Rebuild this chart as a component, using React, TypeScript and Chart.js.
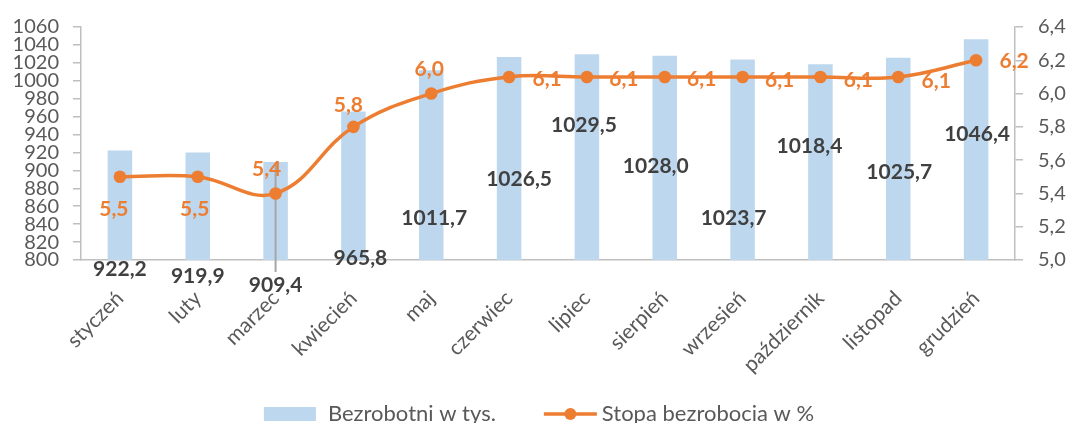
import React, { useEffect, useRef } from "react";
import { Chart, registerables } from "chart.js";

Chart.register(...registerables);

// ---- data ----
const months = [
  "styczeń", "luty", "marzec", "kwiecień", "maj", "czerwiec",
  "lipiec", "sierpień", "wrzesień", "październik", "listopad", "grudzień",
];
const unemployed = [922.2, 919.9, 909.4, 965.8, 1011.7, 1026.5, 1029.5, 1028.0, 1023.7, 1018.4, 1025.7, 1046.4];
const rate = [5.5, 5.5, 5.4, 5.8, 6.0, 6.1, 6.1, 6.1, 6.1, 6.1, 6.1, 6.2];
const seriesNames = ["Bezrobotni w tys.", "Stopa bezrobocia w %"];

// axis ranges
const leftMin = 800;
const leftMax = 1060;
const leftStep = 20;
const rightMin = 5.0;
const rightMax = 6.4;
const rightStep = 0.2;

// label offsets (pixels, relative to bar top / point centre)
const barLabelDx = [0, 0, 0, 7, 3, 10, -3, -9, -9, -11, 1, 1];
const barLabelDy = [119, 124, 123, 147, 148, 122, 71, 111, 159, 82, 114, 95];
const rateLabelDx = [-6, -3, -9, -5, -2, 38, 37, 37, 37, 38, 38, 38];
const rateLabelDy = [32, 32, -24, -22, -24, 2, 2, 2, 3, 3, 4, 1];

// ---- styles ----
const BAR_COLOR = "#BDD7EE";
const LINE_COLOR = "#ED7D31";
const AXIS_COLOR = "#BFBFBF";
const TICK_TEXT = "#595959";
const LABEL_DARK = "#404040";
const FONT = "Lato, 'Liberation Sans', sans-serif";

const fmt = (v: number) => v.toFixed(1).replace(".", ",");

const labelsPlugin = {
  id: "customLabels",
  afterDatasetDraw(chart: any, args: any) {
    if (args.index !== 0) return;
    // thin grey drop line at "marzec"
    const lineMeta = chart.getDatasetMeta(1);
    const p = lineMeta.data[2];
    if (!p) return;
    const ctx = chart.ctx;
    ctx.save();
    ctx.strokeStyle = "#A6A6A6";
    ctx.lineWidth = 2;
    ctx.beginPath();
    ctx.moveTo(p.x, p.y - 30);
    ctx.lineTo(p.x, chart.chartArea.bottom + 12);
    ctx.stroke();
    ctx.restore();
  },
  afterDatasetsDraw(chart: any) {
    const ctx = chart.ctx;
    ctx.save();
    ctx.textAlign = "center";
    ctx.textBaseline = "middle";
    const barMeta = chart.getDatasetMeta(0);
    ctx.font = `bold 21px ${FONT}`;
    ctx.fillStyle = LABEL_DARK;
    barMeta.data.forEach((el: any, i: number) => {
      ctx.fillText(fmt(unemployed[i]), el.x + barLabelDx[i], el.y + barLabelDy[i]);
    });
    const lineMeta = chart.getDatasetMeta(1);
    ctx.fillStyle = LINE_COLOR;
    lineMeta.data.forEach((el: any, i: number) => {
      ctx.fillText(fmt(rate[i]), el.x + rateLabelDx[i], el.y + rateLabelDy[i]);
    });
    ctx.restore();
  },
  afterDraw(chart: any) {
    const ctx = chart.ctx;
    ctx.save();
    ctx.font = `22px ${FONT}`;
    const w1 = ctx.measureText(seriesNames[0]).width;
    const w2 = ctx.measureText(seriesNames[1]).width;
    const boxW = 52, gap1 = 12, between = 48, lineW = 53, gap2 = 5;
    const total = boxW + gap1 + w1 + between + lineW + gap2 + w2;
    let x = (chart.width - total) / 2 + 4;
    const yMid = 414;
    ctx.fillStyle = BAR_COLOR;
    ctx.fillRect(x, yMid - 7, boxW, 14);
    x += boxW + gap1;
    ctx.fillStyle = TICK_TEXT;
    ctx.textBaseline = "alphabetic";
    ctx.textAlign = "left";
    ctx.fillText(seriesNames[0], x, yMid + 7);
    x += w1 + between;
    ctx.strokeStyle = LINE_COLOR;
    ctx.lineWidth = 3.5;
    ctx.beginPath();
    ctx.moveTo(x, yMid);
    ctx.lineTo(x + lineW, yMid);
    ctx.stroke();
    ctx.fillStyle = LINE_COLOR;
    ctx.beginPath();
    ctx.arc(x + lineW / 2, yMid, 6, 0, Math.PI * 2);
    ctx.fill();
    x += lineW + gap2;
    ctx.fillStyle = TICK_TEXT;
    ctx.fillText(seriesNames[1], x, yMid + 7);
    ctx.restore();
  },
};

export default function App() {
  const canvasRef = useRef<HTMLCanvasElement | null>(null);

  useEffect(() => {
    if (!canvasRef.current) return;
    const chart = new Chart(canvasRef.current, {
      type: "bar",
      data: {
        labels: months,
        datasets: [
          {
            type: "bar",
            label: seriesNames[0],
            data: unemployed,
            backgroundColor: BAR_COLOR,
            yAxisID: "y",
            barPercentage: 0.315,
            categoryPercentage: 1,
            order: 2,
          },
          {
            type: "line",
            label: seriesNames[1],
            data: rate,
            borderColor: LINE_COLOR,
            backgroundColor: LINE_COLOR,
            borderWidth: 3.5,
            pointRadius: 6.3,
            pointBackgroundColor: LINE_COLOR,
            pointBorderWidth: 0,
            tension: 0.4,
            yAxisID: "y1",
            order: 1,
          },
        ],
      },
      options: {
        animation: false,
        responsive: true,
        maintainAspectRatio: false,
        layout: { padding: { top: 23, left: 0, right: 0, bottom: 0 } },
        plugins: {
          legend: { display: false },
          tooltip: { enabled: false },
        },
        scales: {
          x: {
            grid: { display: false, drawTicks: false },
            border: { display: true, color: AXIS_COLOR, width: 1.5 },
            ticks: {
              minRotation: 45,
              maxRotation: 45,
              autoSkip: false,
              padding: 26,
              color: TICK_TEXT,
              font: { family: FONT, size: 21 },
            },
            afterFit: (s: any) => { s.height = 163; },
          },
          y: {
            position: "left",
            min: leftMin,
            max: leftMax,
            grid: { drawOnChartArea: false, color: AXIS_COLOR, tickLength: 8, lineWidth: 1.5 },
            border: { display: true, color: AXIS_COLOR, width: 1.5 },
            ticks: {
              stepSize: leftStep,
              autoSkip: false,
              padding: 14,
              color: TICK_TEXT,
              font: { family: FONT, size: 20 },
              callback: (v: any) => String(Math.round(Number(v))),
            },
            afterFit: (s: any) => { s.width = 81; },
          },
          y1: {
            position: "right",
            min: rightMin,
            max: rightMax,
            grid: { drawOnChartArea: false, color: AXIS_COLOR, tickLength: 8, lineWidth: 1.5 },
            border: { display: true, color: AXIS_COLOR, width: 1.5 },
            ticks: {
              stepSize: rightStep,
              autoSkip: false,
              padding: 15,
              color: TICK_TEXT,
              font: { family: FONT, size: 20 },
              callback: (v: any) => fmt(Number(v)),
            },
            afterFit: (s: any) => { s.width = 55; },
          },
        },
      },
      plugins: [labelsPlugin],
    });
    return () => chart.destroy();
  }, []);

  return (
    <div style={{ position: "fixed", left: 0, top: 0, width: 1070, height: 423, background: "#fff" }}>
      <canvas ref={canvasRef} />
    </div>
  );
}
